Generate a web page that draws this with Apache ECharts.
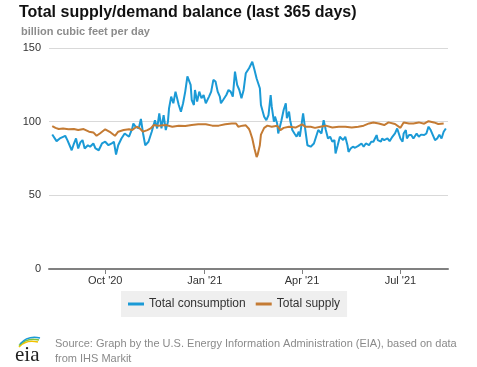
<!DOCTYPE html>
<html>
<head>
<meta charset="utf-8">
<script src="https://cdn.jsdelivr.net/npm/echarts@6/dist/echarts.min.js"></script>
<style>
html,body{margin:0;padding:0;background:#fff;}
#chart{width:477px;height:367px;}
</style>
</head>
<body>
<div id="chart"></div>
<script>
// Data start date (day 0) and axis tick dates
var startDate = [2020, 7, 10];
var tickDates = [[2020, 9, 1], [2021, 0, 1], [2021, 3, 1], [2021, 6, 1]];
var monthNames = ['Jan','Feb','Mar','Apr','May','Jun','Jul','Aug','Sep','Oct','Nov','Dec'];
var seriesNames = ['Total consumption', 'Total supply'];

// Total consumption: day offsets from start date, values (Bcf/d)
var consDays = [3,7,10,15,17,21,23,25,27,29,31,33,36,38,41,43,46,49,52,55,58,60,62,64,67,70,74,77,78,80,83,85,87,89,92,95,98,100,102,104,106,108,110,111,113,115,117,120,122,124,126,128,131,132,134,135,137,139,141,143,145,148,150,152,154,156,158,159,161,164,166,168,170,172,174,176,178,180,182,185,186,188,190,192,195,196,199,201,203,205,206,208,209,211,212,215,217,219,220,222,223,225,227,229,231,232,235,236,239,242,245,247,249,252,254,256,258,260,262,264,265,267,269,272,274,276,277,279,281,283,286,289,291,293,296,298,300,303,304,307,308,310,313,315,317,320,322,323,325,327,328,330,331,333,335,337,340,342,344,347,349,351,353,355,357,359,361,363,365,367];
var consVals = [91.3,86.8,88.6,90.4,87.5,80.6,85.0,88.6,81.8,85.9,87.5,81.8,84.0,83.0,85.2,81.8,80.6,85.2,86.4,84.0,85.2,86.4,77.7,84.0,88.6,92.0,89.8,95.4,98.8,96.6,95.4,101.8,92.0,84.0,86.4,93.2,101.0,95.4,105.6,95.4,104.5,94.3,100.0,109.0,117.0,112.5,120.4,111.3,106.8,112.5,120.4,130.7,125.0,114.7,111.3,121.5,113.6,120.4,115.9,118.1,112.5,117.0,120.4,128.4,127.3,120.4,117.0,112.5,114.7,118.1,121.5,120.4,117.0,134.0,125.0,121.5,115.9,121.5,132.9,136.3,137.5,140.7,135.2,129.3,122.7,111.3,103.4,101.0,104.5,118.1,110.2,100.0,103.4,98.8,92.0,101.0,107.9,112.5,102.3,106.8,101.0,94.3,92.0,89.8,93.2,89.8,105.6,100.0,84.0,83.0,85.2,89.8,94.3,92.0,101.0,94.3,88.6,89.8,86.4,87.5,78.4,84.0,89.8,87.5,89.8,84.0,79.5,81.8,83.0,82.3,83.6,85.2,83.0,85.2,84.0,86.4,86.4,90.9,87.5,86.4,88.6,87.5,88.6,86.8,89.1,92.0,95.4,96.6,88.6,86.4,92.0,94.3,88.6,90.9,90.9,88.6,92.0,89.8,91.2,90.9,92.0,96.6,94.3,90.9,87.5,88.6,91.2,88.6,93.2,95.4];

// Total supply: day offsets from start date, values (Bcf/d)
var supDays = [3,6,9,13,18,23,27,32,37,41,44,47,52,57,61,64,69,74,77,81,84,87,91,94,97,101,108,114,120,126,132,138,145,151,157,163,169,173,175,179,182,185,186,188,190,192,193,195,196,199,202,206,211,214,217,222,228,234,237,242,246,251,256,262,268,274,280,286,291,296,300,305,310,314,320,325,328,333,337,342,347,351,356,360,365];
var supVals = [97.0,95.8,95.0,95.4,94.8,95.0,94.3,95.0,93.2,92.7,90.4,92.0,94.8,92.7,90.4,93.2,94.3,94.8,94.3,96.6,95.4,93.2,94.3,95.4,97.7,97.3,97.7,96.6,97.3,97.0,97.7,98.2,98.2,97.3,97.3,98.2,98.8,98.8,96.6,97.3,97.5,95.0,93.2,88.6,81.8,76.0,77.7,84.0,91.2,95.8,97.3,96.6,97.3,94.3,95.8,96.6,96.0,98.2,96.6,96.6,95.8,96.6,97.3,96.0,96.6,96.6,96.0,96.6,97.3,98.8,99.5,98.8,97.7,99.5,98.4,95.8,99.5,98.8,98.8,99.5,98.6,100.3,99.5,98.4,98.8];

var yTicks = [0, 50, 100, 150];

function dayTs(off) {
  return new Date(startDate[0], startDate[1], startDate[2] + off).getTime();
}
function pairs(days, vals) {
  return days.map(function (d, i) { return [dayTs(d), vals[i]]; });
}
var tickTs = tickDates.map(function (t) { return new Date(t[0], t[1], t[2]).getTime(); });

var chart = echarts.init(document.getElementById('chart'), null, {renderer: 'canvas'});
var fontFam = '"Liberation Sans", Arial, sans-serif';
chart.setOption({
  animation: false,
  textStyle: {fontFamily: fontFam},
  color: ['#1b9ad6', '#c47b34'],
  grid: {left: 49, right: 29, top: 48, bottom: 98, containLabel: false},
  xAxis: {
    type: 'value',
    min: dayTs(0),
    max: dayTs(369),
    axisLine: {show: true, onZero: false, lineStyle: {color: '#808080', width: 2}},
    axisTick: {show: true, length: 5, lineStyle: {color: '#808080', width: 1}, customValues: tickTs},
    axisLabel: {
      customValues: tickTs,
      hideOverlap: false,
      color: '#333', fontSize: 11, margin: 6, fontFamily: fontFam,
      formatter: function (v) {
        var d = new Date(v);
        return monthNames[d.getMonth()] + " '" + String(d.getFullYear()).slice(2);
      }
    },
    splitLine: {show: false}
  },
  yAxis: {
    type: 'value',
    min: yTicks[0], max: yTicks[yTicks.length - 1], interval: 50,
    axisLine: {show: false},
    axisTick: {show: false},
    axisLabel: {color: '#333', fontSize: 11, margin: 8, fontFamily: fontFam},
    splitLine: {lineStyle: {color: '#d9d9d9', width: 1}}
  },
  legend: {
    left: 121, top: 291,
    backgroundColor: '#efefef',
    padding: [7, 7, 7, 7],
    itemGap: 10,
    itemWidth: 16, itemHeight: 3,
    icon: 'rect',
    textStyle: {color: '#333', fontSize: 12, fontFamily: fontFam},
    data: seriesNames
  },
  series: [
    {name: seriesNames[0], type: 'line', showSymbol: false, data: pairs(consDays, consVals),
     lineStyle: {width: 2}},
    {name: seriesNames[1], type: 'line', showSymbol: false, data: pairs(supDays, supVals),
     lineStyle: {width: 2}}
  ],
  graphic: [
    {type: 'text', left: 19, top: 5, style: {text: 'Total supply/demand balance (last 365 days)', font: 'bold 16px ' + fontFam, fill: '#111'}},
    {type: 'text', left: 21, top: 26, style: {text: 'billion cubic feet per day', font: 'bold 11px ' + fontFam, fill: '#8c8c8c'}},
    {type: 'text', left: 55, top: 338, style: {text: 'Source: Graph by the U.S. Energy Information Administration (EIA), based on data', font: '11px ' + fontFam, fill: '#8a8a8a'}},
    {type: 'text', left: 55, top: 353, style: {text: 'from IHS Markit', font: '11px ' + fontFam, fill: '#8a8a8a'}},
    // EIA logo
    {type: 'bezierCurve', shape: {x1: 19, y1: 347, x2: 38, y2: 342, cpx1: 26, cpy1: 339}, style: {stroke: '#f2c200', lineWidth: 1.6, fill: null}},
    {type: 'bezierCurve', shape: {x1: 19, y1: 345.5, x2: 39, y2: 340, cpx1: 27, cpy1: 337}, style: {stroke: '#7cc242', lineWidth: 1.6, fill: null}},
    {type: 'bezierCurve', shape: {x1: 20, y1: 344, x2: 40, y2: 338, cpx1: 28, cpy1: 335}, style: {stroke: '#1b9ad6', lineWidth: 1.6, fill: null}},
    {type: 'text', left: 15, top: 345, style: {text: 'eia', font: '21px "Liberation Serif", "DejaVu Serif", serif', fill: '#222'}}
  ]
});
</script>
</body>
</html>
